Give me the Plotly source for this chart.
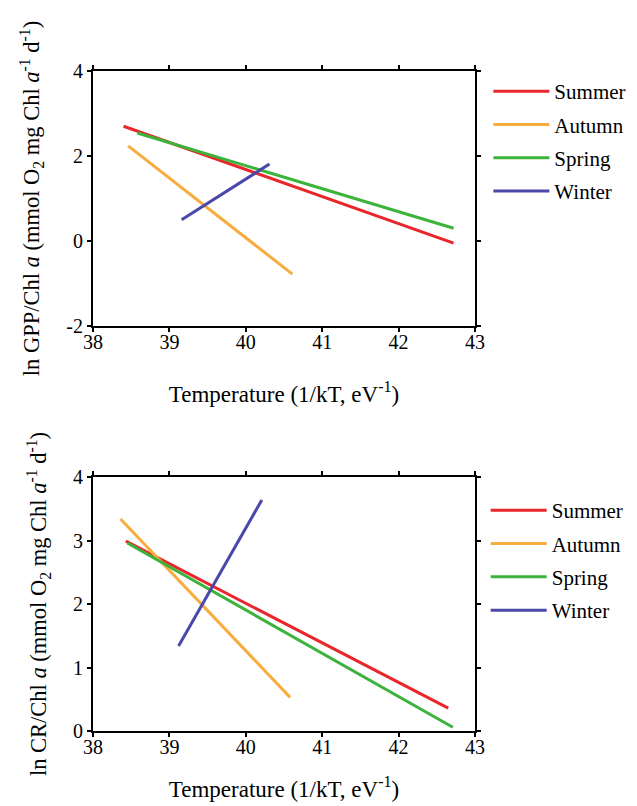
import plotly.graph_objects as go

seasons = ["Summer", "Autumn", "Spring", "Winter"]
colors = ["#e8262b", "#f8ac3e", "#3cb43c", "#4a48a8"]

# GPP panel: fitted line endpoints (x = 1/kT, y = ln GPP/Chl a)
gpp_x = {"Summer": [38.40, 42.72], "Autumn": [38.46, 40.61],
         "Spring": [38.58, 42.72], "Winter": [39.16, 40.31]}
gpp_y = {"Summer": [2.70, -0.05], "Autumn": [2.24, -0.78],
         "Spring": [2.54, 0.30], "Winter": [0.50, 1.81]}

# CR panel
cr_x = {"Summer": [38.43, 42.65], "Autumn": [38.36, 40.58],
        "Spring": [38.45, 42.71], "Winter": [39.12, 40.21]}
cr_y = {"Summer": [2.99, 0.36], "Autumn": [3.34, 0.53],
        "Spring": [2.96, 0.06], "Winter": [1.34, 3.64]}

x_ticks = [38, 39, 40, 41, 42, 43]
gpp_ticks = [-2, 0, 2, 4]
gpp_ticktext = ["-2", "0", "2", "4"]
cr_ticks = [0, 1, 2, 3, 4]

FONT = "Liberation Serif"
fig = go.Figure()

for s, c in zip(seasons, colors):
    fig.add_trace(go.Scatter(x=gpp_x[s], y=gpp_y[s], mode="lines", name=s,
                             line=dict(color=c, width=3), xaxis="x", yaxis="y",
                             legend="legend", legendgroup="a" + s))
for s, c in zip(seasons, colors):
    fig.add_trace(go.Scatter(x=cr_x[s], y=cr_y[s], mode="lines", name=s,
                             line=dict(color=c, width=3), xaxis="x2", yaxis="y2",
                             legend="legend2", legendgroup="b" + s))

axis_common = dict(showline=True, linecolor="black", linewidth=2, mirror="ticks",
                   ticks="outside", ticklen=4, tickwidth=2, tickcolor="black",
                   showgrid=False, zeroline=False, automargin=False,
                   tickfont=dict(family=FONT, size=20, color="black"))

xtitle = "Temperature (1/kT, eV<sup>-1</sup>)"
fig.update_layout(
    width=637, height=806,
    margin=dict(l=93, r=162, t=71, b=75, autoexpand=False),
    plot_bgcolor="white", paper_bgcolor="white",
    font=dict(family=FONT, size=21, color="black"),
    xaxis=dict(domain=[0, 1], range=[38, 43], tickvals=x_ticks, anchor="y",
               ticklabelstandoff=-7,
               title=dict(text=xtitle, font=dict(size=23), standoff=34), **axis_common),
    yaxis=dict(domain=[0.6136, 1], range=[-2, 4], tickvals=gpp_ticks, ticktext=gpp_ticktext,
               anchor="x",
               title=dict(text="ln GPP/Chl <i>a</i> (mmol O<sub>2</sub> mg Chl <i>a</i><sup>-1</sup> d<sup>-1</sup>)",
                          font=dict(size=22.5), standoff=20), **axis_common),
    xaxis2=dict(domain=[0, 1], range=[38, 43], tickvals=x_ticks, anchor="y2",
                ticklabelstandoff=-7,
                title=dict(text=xtitle, font=dict(size=23), standoff=24), **axis_common),
    yaxis2=dict(domain=[0, 0.3848], range=[0, 4], tickvals=cr_ticks, anchor="x2",
                title=dict(text="ln CR/Chl <i>a</i> (mmol O<sub>2</sub> mg Chl <i>a</i><sup>-1</sup> d<sup>-1</sup>)",
                           font=dict(size=22.5), standoff=20), **axis_common),
    legend=dict(x=1.035, y=1.0, xanchor="left", yanchor="top", bgcolor="rgba(0,0,0,0)",
                font=dict(family=FONT, size=21), tracegroupgap=3, itemwidth=56),
    legend2=dict(x=1.028, y=0.365, xanchor="left", yanchor="top", bgcolor="rgba(0,0,0,0)",
                 font=dict(family=FONT, size=21), tracegroupgap=3, itemwidth=56),
)

fig.write_html("out.html")
